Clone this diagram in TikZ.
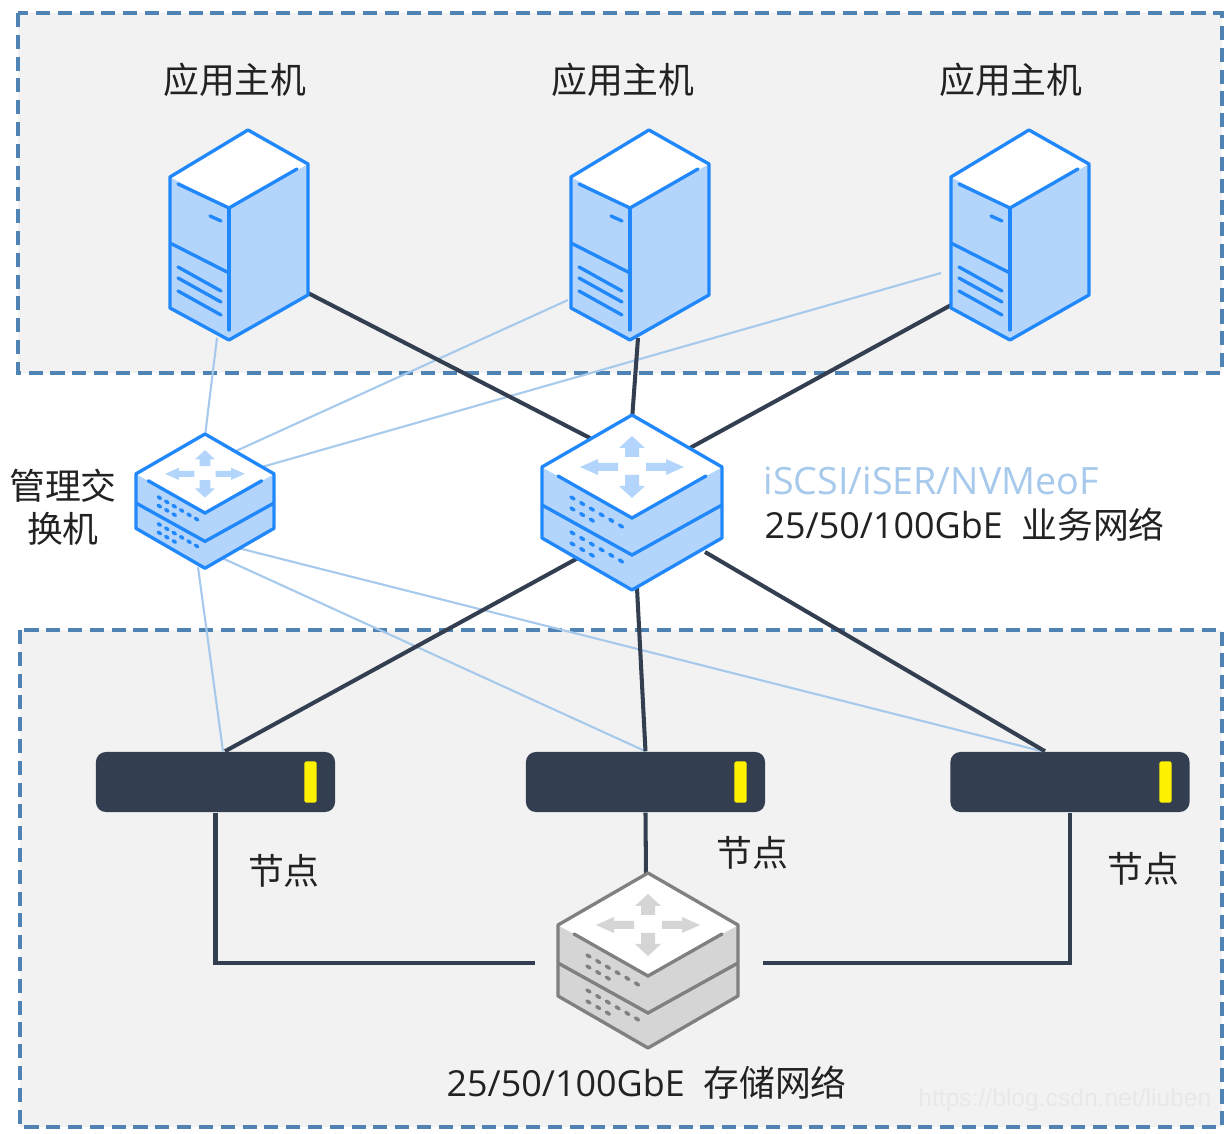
\documentclass[tikz,border=0pt]{standalone}
\usepackage{fontspec}
\setmainfont{Open Sans}
\newfontfamily\cjk{Noto Sans CJK SC}
\newfontfamily\markfont{Liberation Sans}
\definecolor{panelfill}{HTML}{F2F2F2}
\definecolor{panelline}{HTML}{4F83B3}
\definecolor{bluedraw}{HTML}{2188FB}
\definecolor{bluefill}{HTML}{B4D5FB}
\definecolor{graydraw}{HTML}{808080}
\definecolor{grayfill}{HTML}{D5D5D5}
\definecolor{darklink}{HTML}{333F50}
\definecolor{lightlink}{HTML}{A6C9EC}
\definecolor{textgray}{HTML}{222222}
\tikzset{
    panel/.style = {
        fill=panelfill,
        draw=panelline,
        dash pattern=on 4pt off 2.2pt,
        line width=0.9pt
    },
    fast/.style = {
        draw=darklink,
        line width=1.15pt
    },
    mgmt/.style = {
        draw=lightlink,
        line width=0.6pt
    },
    storage/.style = {
        fill=darklink,
        rounded corners=0.1cm,
        minimum width=2.39cm,
        minimum height=0.60cm,
        inner sep=0pt
    },
    lamp/.style = {
        fill=yellow,
        rounded corners=0.015cm,
        minimum width=0.12cm,
        minimum height=0.41cm,
        inner sep=0pt
    },
    label/.style = {
        font=\fontsize{10.2pt}{12.2pt}\selectfont\cjk,
        text=textgray,
        align=center,
        inner sep=0pt
    },
    speed/.style = {
        font=\fontsize{10.2pt}{12.2pt}\selectfont,
        text=textgray,
        inner sep=0pt
    },
    pics/hostbox/.style = {
        code = {
            \fill[bluefill] (0,47) -- (59,78) -- (138,34) -- (138,165) -- (59,210) -- (0,178) -- cycle;
            \fill[white] (78,0) -- (0,47) -- (59,78) -- (138,34) -- cycle;
            \draw[bluedraw, line width=0.95pt, line join=round] (78,0) -- (0,47) -- (0,178) -- (59,210) -- (138,165) -- (138,34) -- cycle;
            \draw[bluedraw, line width=0.95pt, line cap=round] (8,54) -- (59,78) -- (127,39);
            \draw[bluedraw, line width=0.95pt, line cap=round] (59,78) -- (59,200);
            \draw[bluedraw, line width=0.95pt] (0,113) -- (59,143);
            \draw[bluedraw, line width=0.95pt, line cap=round] (40,86) -- (51,91);
            \foreach \y in {137,148,161} {
                \draw[bluedraw, line width=0.95pt, line cap=round] (8,\y) -- (51,{\y+24});
            }
        }
    },
    pics/switchbox/.style 2 args = {
        code = {
            \fill[#2] (-90,52) -- (0,103) -- (90,52) -- (90,123) -- (0,175) -- (-90,123) -- cycle;
            \fill[white] (0,0) -- (-90,52) -- (0,103) -- (90,52) -- cycle;
            \draw[#1, line width=0.95pt, line join=round] (0,0) -- (-90,52) -- (-90,123) -- (0,175) -- (90,123) -- (90,52) -- cycle;
            \draw[#1, line width=0.95pt, line cap=round] (-74,61) -- (0,103) -- (74,61);
            \draw[#1, line width=0.95pt] (-90,90) -- (0,140) -- (90,90);
            % Draw arrows
            \fill[#2] (0,21) -- (13,33) -- (7,33) -- (7,42) -- (-7,42) -- (-7,33) -- (-13,33) -- cycle;
            \fill[#2] (0,83) -- (13,71) -- (7,71) -- (7,60) -- (-7,60) -- (-7,71) -- (-13,71) -- cycle;
            \fill[#2] (-52,52) -- (-34,44) -- (-34,48) -- (-14,48) -- (-14,56) -- (-34,56) -- (-34,60) -- cycle;
            \fill[#2] (52,52) -- (34,44) -- (34,48) -- (14,48) -- (14,56) -- (34,56) -- (34,60) -- cycle;
            % Draw ports
            \foreach \b in {0,35} {
                \foreach \i in {0,...,5} {
                    \draw[#1, line width=1pt, line cap=round] ({-61+9.7*\i},{82+\b+5.6*\i}) -- ({-58+9.7*\i},{84+\b+5.6*\i});
                }
                \foreach \i in {0,1,2} {
                    \draw[#1, line width=1pt, line cap=round] ({-61+9.7*\i},{93+\b+5.6*\i}) -- ({-58+9.7*\i},{95+\b+5.6*\i});
                }
            }
        }
    }
}

\begin{document}
\begin{tikzpicture}[x=0.01cm,y=-0.01cm]
    \useasboundingbox (0,0) rectangle (1232,1134);

    % Draw both network areas
    \draw[panel] (18,13) rectangle (1222,373);
    \draw[panel] (20,630) rectangle (1222,1127);

    % Link ends
    \coordinate (hostAfast) at (306,292);
    \coordinate (hostBfast) at (638,338);
    \coordinate (hostCfast) at (953,304);
    \coordinate (hostAmgmt) at (217,338);
    \coordinate (hostBmgmt) at (568,300);
    \coordinate (hostCmgmt) at (941,273);
    \coordinate (busUp) at (632,420);
    \coordinate (busLeftUp) at (590,438);
    \coordinate (busRightUp) at (690,448);
    \coordinate (busLeftDown) at (578,558);
    \coordinate (busDown) at (637,588);
    \coordinate (busRightDown) at (705,552);
    \coordinate (swUp) at (205,436);
    \coordinate (swRightA) at (236,451);
    \coordinate (swRightB) at (262,467);
    \coordinate (swDown) at (198,567);
    \coordinate (swDownA) at (222,558);
    \coordinate (swDownB) at (238,548);
    \coordinate (storeLeft) at (535,963);
    \coordinate (storeRight) at (763,963);
    \coordinate (storeUp) at (646,875);

    % Draw storage nodes
    \node[storage] (nodeA) at (215.5,782) {};
    \node[storage] (nodeB) at (645.5,782) {};
    \node[storage] (nodeC) at (1070,782) {};
    \node[lamp] (lampA) at (310.5,782) {};
    \node[lamp] (lampB) at (740.5,782) {};
    \node[lamp] (lampC) at (1165.5,782) {};

    % Draw links
    \draw[mgmt] (hostAmgmt) -- (swUp);
    \draw[mgmt] (hostBmgmt) -- (swRightA);
    \draw[mgmt] (hostCmgmt) -- (swRightB);
    \draw[mgmt] (swDown) -- (nodeA.north -| 223,0);
    \draw[mgmt] (swDownA) -- (nodeB.north);
    \draw[mgmt] (swDownB) -- (nodeC.north -| 1042,0);

    \draw[fast] (hostAfast) -- (busLeftUp);
    \draw[fast] (hostBfast) -- (busUp);
    \draw[fast] (hostCfast) -- (busRightUp);
    \draw[fast] (busLeftDown) -- (nodeA.north -| 225,0);
    \draw[fast] (busDown) -- (nodeB.north);
    \draw[fast] (busRightDown) -- (nodeC.north -| 1045,0);
    \draw[fast] (nodeA.south) |- (storeLeft);
    \draw[fast] (nodeB.south) -- (storeUp);
    \draw[fast] (nodeC.south) |- (storeRight);

    % Draw devices
    \pic at (170,130) {hostbox};
    \pic at (571,130) {hostbox};
    \pic at (951,130) {hostbox};
    \pic at (632,415) {switchbox={bluedraw}{bluefill}};
    \pic[scale=0.767] at (205,434) {switchbox={bluedraw}{bluefill}};
    \pic at (648,873) {switchbox={graydraw}{grayfill}};

    % Draw labels
    \node[label] (hostAname) at (235,80) {应用主机};
    \node[label] (hostBname) at (623,80) {应用主机};
    \node[label] (hostCname) at (1011,80) {应用主机};
    \node[label] (swname) at (63,507) {管理交\\换机};
    \node[speed, anchor=west, text=lightlink, font=\fontsize{10.7pt}{12.2pt}\selectfont] (proto) at (763,481) {iSCSI/iSER/NVMeoF};
    \node[speed, anchor=west] (busname) at (764,525) {25/50/100GbE\ \ {\cjk 业务网络}};
    \node[label] (nodeAname) at (284,871) {节点};
    \node[label] (nodeBname) at (752,853) {节点};
    \node[label] (nodeCname) at (1143,869) {节点};
    \node[speed, anchor=west] (storename) at (446,1083) {25/50/100GbE\ \ {\cjk 存储网络}};
    \node[inner sep=0pt, anchor=east, text=black!9, font=\fontsize{7pt}{8pt}\selectfont\markfont] (mark) at (1212,1100) {https://blog.csdn.net/liuben};
\end{tikzpicture}
\end{document}
